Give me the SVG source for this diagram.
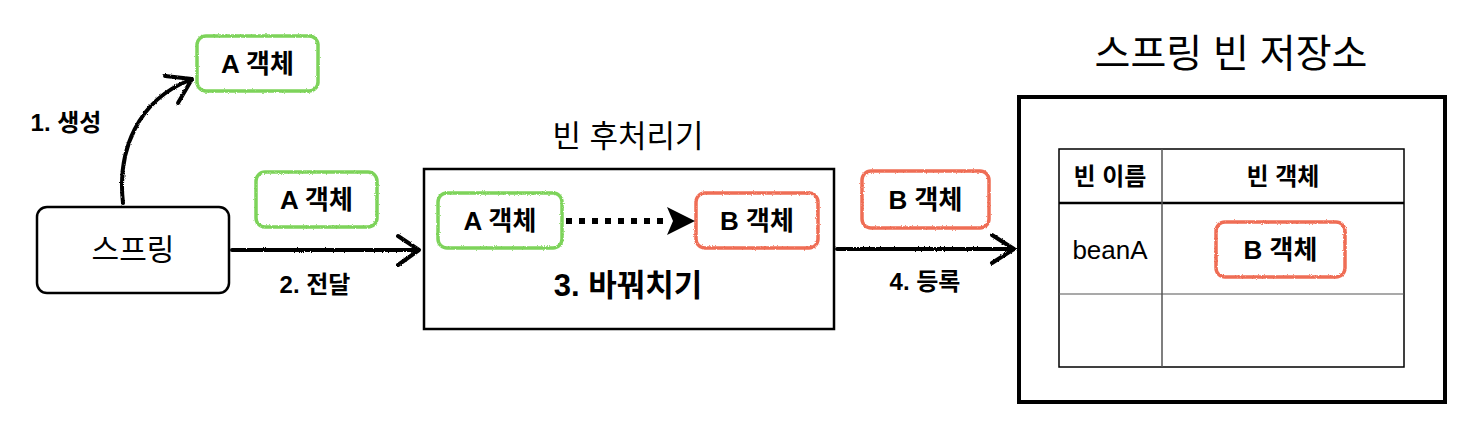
<svg xmlns="http://www.w3.org/2000/svg" width="1462" height="428" viewBox="0 0 1462 428">
<style>
text{font-family:"Liberation Sans","Noto Sans CJK KR",sans-serif;fill:#000;text-anchor:middle}
.b{font-weight:bold}
.lbl{font-size:26px;font-weight:bold}
.step{font-size:24px;font-weight:bold}
.green{fill:none;stroke:#7dd35a;stroke-width:3.5}
.red{fill:none;stroke:#ef6d55;stroke-width:3.5}
.sk{fill:none;stroke:#000;stroke-width:4;stroke-linecap:round;stroke-linejoin:round}
.frame{fill:none;stroke:#000}
</style>
<defs>
<filter id="rough" x="-10%" y="-10%" width="120%" height="120%">
<feTurbulence type="fractalNoise" baseFrequency="0.9" numOctaves="2" seed="3" result="n"/>
<feDisplacementMap in="SourceGraphic" in2="n" scale="2.5" xChannelSelector="R" yChannelSelector="G"/>
</filter>
</defs>
<rect width="1462" height="428" fill="#fff"/>

<g id="label-create"><text class="step" x="66" y="131">1. 생성</text></g>
<g id="label-pass"><text class="step" x="315" y="293">2. 전달</text></g>
<g id="label-register"><text class="step" x="925" y="290">4. 등록</text></g>

<g id="a-object-top">
<rect class="green" x="197" y="36" width="121" height="55" rx="9" filter="url(#rough)"/>
<text class="lbl" x="257.5" y="73">A 객체</text>
</g>

<g id="a-object-mid">
<rect class="green" x="256" y="172" width="121" height="55" rx="9" filter="url(#rough)"/>
<text class="lbl" x="316.5" y="209">A 객체</text>
</g>

<g id="spring">
<rect x="37" y="207" width="192" height="86" rx="10" fill="#fff" stroke="#000" stroke-width="2.5"/>
<text x="133" y="260" style="font-size:30px">스프링</text>
</g>

<g id="post-processor">
<text x="628" y="147" style="font-size:31px">빈 후처리기</text>
<rect class="frame" x="424" y="169" width="410" height="160" stroke-width="2.5"/>
<text x="628" y="296" class="b" style="font-size:31px">3. 바꿔치기</text>
</g>

<g id="inner-a">
<rect class="green" x="438" y="193" width="124" height="55" rx="9" filter="url(#rough)"/>
<text class="lbl" x="500" y="230">A 객체</text>
</g>

<g id="inner-b">
<rect class="red" x="696" y="193" width="122" height="55" rx="9" filter="url(#rough)"/>
<text class="lbl" x="757" y="230">B 객체</text>
</g>

<g id="b-object-mid">
<rect class="red" x="862" y="171" width="127" height="57" rx="9" filter="url(#rough)"/>
<text class="lbl" x="925.5" y="209">B 객체</text>
</g>

<g id="bean-storage">
<text x="1231" y="67" style="font-size:39px">스프링 빈 저장소</text>
<rect class="frame" x="1019" y="97" width="426" height="305" stroke-width="4"/>
<rect x="1059" y="149" width="345" height="218" fill="none" stroke="#000" stroke-width="1.5"/>
<line x1="1059" y1="203" x2="1404" y2="203" stroke="#000" stroke-width="2.5"/>
<line x1="1059" y1="294" x2="1404" y2="294" stroke="#555" stroke-width="1.2"/>
<line x1="1162" y1="149" x2="1162" y2="367" stroke="#555" stroke-width="1.5"/>
<text class="b" x="1110" y="185" style="font-size:24px">빈 이름</text>
<text class="b" x="1283" y="185" style="font-size:24px">빈 객체</text>
<text x="1110" y="259" style="font-size:26px">beanA</text>
</g>

<g id="b-object-table">
<rect class="red" x="1216" y="222" width="129" height="55" rx="9" filter="url(#rough)"/>
<text class="lbl" x="1280.5" y="259">B 객체</text>
</g>

<g id="connectors">
<g filter="url(#rough)">
<path class="sk" d="M123,203 C117,150 138,100 190,80"/>
<path class="sk" d="M165,76 L192,79 L178,103"/>
<path class="sk" d="M232,250 L418,250"/>
<path class="sk" d="M398,236 L419,250 L398,265"/>
<path class="sk" d="M837,249 L1013,249"/>
<path class="sk" d="M992,235 L1014,249 L992,263"/>
</g>
<path d="M566,221 L666,221" stroke="#000" stroke-width="6" stroke-dasharray="6 7" fill="none"/>
<path d="M667,207 L695,221 L667,235 L673,221 Z" fill="#000"/>
</g>
</svg>
